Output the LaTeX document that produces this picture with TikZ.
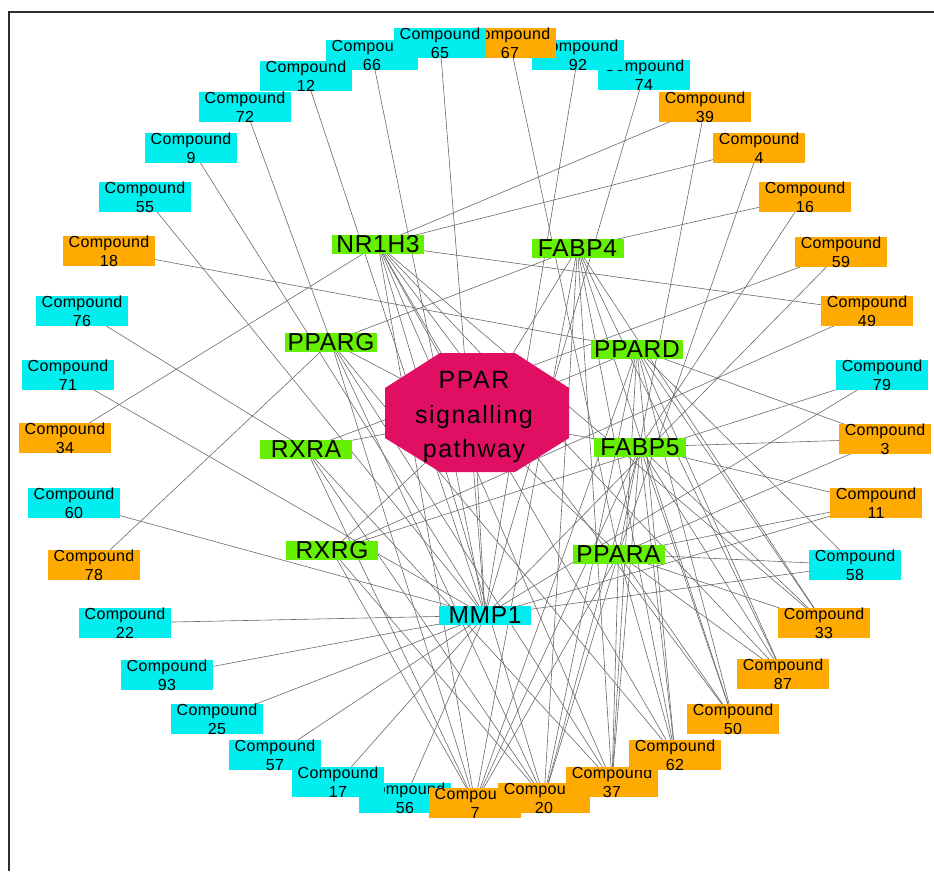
\documentclass[tikz,border=0pt]{standalone}
\usepackage{fontspec}
\setmainfont{Liberation Sans}
\newfontfamily\cmpfont[LetterSpace=2]{Liberation Sans}
\newfontfamily\genefont[LetterSpace=3]{Liberation Sans}
\newfontfamily\pathfont[LetterSpace=6]{Liberation Sans}
\usetikzlibrary{backgrounds}

\definecolor{cmpcyan}{RGB}{0,238,238}
\definecolor{cmporange}{RGB}{255,170,0}
\definecolor{genegreen}{RGB}{100,240,0}
\definecolor{pathpink}{RGB}{225,15,100}
\definecolor{edgegray}{RGB}{105,105,105}
\definecolor{framegray}{RGB}{45,45,45}

\begin{document}
\begin{tikzpicture}[x=1pt,y=-1pt,
  cmp/.style={minimum width=92pt, minimum height=29pt, inner sep=0pt, align=center,
              font=\cmpfont\fontsize{16}{18.7}\selectfont},
  cyanc/.style={cmp, fill=cmpcyan},
  orangec/.style={cmp, fill=cmporange},
  gene/.style={minimum width=92pt, minimum height=19pt, inner sep=0pt, fill=genegreen,
               font=\genefont\fontsize{24.5}{25}\selectfont},
  edge/.style={draw=edgegray, line width=0.6pt}]

\useasboundingbox (0,0) rectangle (934,871);
\draw[framegray, line width=2pt] (9,871) -- (9,12) -- (934,12);

% pathway octagon
\fill[pathpink] (440,353) -- (515,353) -- (569,388) -- (569,438) -- (515,472)
  -- (440,472) -- (385,438) -- (385,388) -- cycle;
\node[align=center, inner sep=0pt, font=\pathfont\fontsize{25}{34.5}\selectfont]
  (ppar) at (474,417) {PPAR\\signalling\\pathway};

% targets
\node[gene] (nr1h3) at (378,244.5) {NR1H3};
\node[gene] (fabp4) at (577.5,248) {FABP4};
\node[gene] (pparg) at (331,342) {PPARG};
\node[gene] (ppard) at (637,349) {PPARD};
\node[gene] (rxra)  at (306,449) {RXRA};
\node[gene] (fabp5) at (640,447) {FABP5};
\node[gene] (rxrg)  at (332,550.5) {RXRG};
\node[gene] (ppara) at (618.5,554) {PPARA};
\node[gene, fill=cmpcyan] (mmp1) at (485,615.5) {MMP1};

% compounds, top arc
\node[cyanc]   (c74) at (644,75)  {Compound\\74};
\node[cyanc]   (c92) at (578,55)  {Compound\\92};
\node[orangec] (c67) at (510,43)  {Compound\\67};
\node[cyanc]   (c66) at (372,55)  {Compound\\66};
\node[cyanc]   (c65) at (440,43)  {Compound\\65};
\node[cyanc]   (c12) at (306,76)  {Compound\\12};
% left arc
\node[cyanc]   (c72) at (245,107) {Compound\\72};
\node[cyanc]   (c9)  at (191,148) {Compound\\9};
\node[cyanc]   (c55) at (145,197) {Compound\\55};
\node[orangec] (c18) at (109,251) {Compound\\18};
\node[cyanc]   (c76) at (82,311)  {Compound\\76};
\node[cyanc]   (c71) at (68,375)  {Compound\\71};
\node[orangec] (c34) at (65,438)  {Compound\\34};
\node[cyanc]   (c60) at (74,503)  {Compound\\60};
\node[orangec] (c78) at (94,565)  {Compound\\78};
\node[cyanc]   (c22) at (125,623) {Compound\\22};
\node[cyanc]   (c93) at (167,675) {Compound\\93};
\node[cyanc]   (c25) at (217,719) {Compound\\25};
\node[cyanc]   (c57) at (275,755) {Compound\\57};
% bottom arc
\node[cyanc]   (c56) at (405,798) {Compound\\56};
\node[cyanc]   (c17) at (338,782) {Compound\\17};
\node[orangec] (c7)  at (475,803) {Compound\\7};
\node[orangec] (c20) at (544,798) {Compound\\20};
\node[orangec] (c37) at (612,782) {Compound\\37};
\node[orangec] (c62) at (675,755) {Compound\\62};
\node[orangec] (c50) at (733,719) {Compound\\50};
\node[orangec] (c87) at (783,674) {Compound\\87};
% right arc
\node[orangec] (c33) at (824,623) {Compound\\33};
\node[cyanc]   (c58) at (855,565) {Compound\\58};
\node[orangec] (c11) at (876,503) {Compound\\11};
\node[orangec] (c3)  at (885,439) {Compound\\3};
\node[cyanc]   (c79) at (882,375) {Compound\\79};
\node[orangec] (c49) at (867,311) {Compound\\49};
\node[orangec] (c59) at (841,252) {Compound\\59};
\node[orangec] (c16) at (805,197) {Compound\\16};
\node[orangec] (c4)  at (759,148) {Compound\\4};
\node[orangec] (c39) at (705,107) {Compound\\39};

% connectors, kept behind the nodes
\begin{pgfonlayer}{background}
  % targets to the pathway
  \foreach \g in {nr1h3,fabp4,pparg,ppard,rxra,fabp5,rxrg,ppara,mmp1}
    \draw[edge] (\g.center) -- (ppar.center);
  \draw[edge] (pparg.center) -- (fabp4.center);
  % compounds with a single target
  \foreach \a/\b in {c66/mmp1,c65/mmp1,c67/ppara,c92/mmp1,c74/mmp1,c12/mmp1,
      c72/pparg,c9/mmp1,c55/mmp1,c18/ppard,c76/rxra,c71/mmp1,c34/nr1h3,c60/mmp1,
      c78/pparg,c22/mmp1,c93/mmp1,c25/mmp1,c57/mmp1,c17/mmp1,c56/mmp1}
    \draw[edge] (\a.center) -- (\b.center);
  % compounds on the right arc
  \foreach \a/\b in {c39/nr1h3,c39/ppara,c4/nr1h3,c4/ppara,c16/fabp4,c16/fabp5,
      c59/rxra,c59/mmp1,c49/nr1h3,c49/rxrg,c79/rxrg,c79/mmp1,
      c3/fabp5,c3/ppard,c3/ppara,c11/fabp5,c11/ppara,c11/mmp1,
      c58/ppard,c58/ppara,c58/mmp1}
    \draw[edge] (\a.center) -- (\b.center);
  % compounds on the bottom arc
  \foreach \g in {nr1h3,pparg,rxra,rxrg,fabp4,ppard,fabp5,ppara} {
    \draw[edge] (c7.center) -- (\g.center);
    \draw[edge] (c20.center) -- (\g.center);
  }
  \foreach \g in {nr1h3,pparg,rxra,fabp4,ppard,fabp5,ppara}
    \draw[edge] (c37.center) -- (\g.center);
  \foreach \g in {nr1h3,pparg,fabp4,ppard,fabp5,ppara}
    \draw[edge] (c62.center) -- (\g.center);
  \foreach \c in {c50,c87,c33}
    \foreach \g in {nr1h3,fabp4,ppard,fabp5,ppara}
      \draw[edge] (\c.center) -- (\g.center);
\end{pgfonlayer}
\end{tikzpicture}
\end{document}
